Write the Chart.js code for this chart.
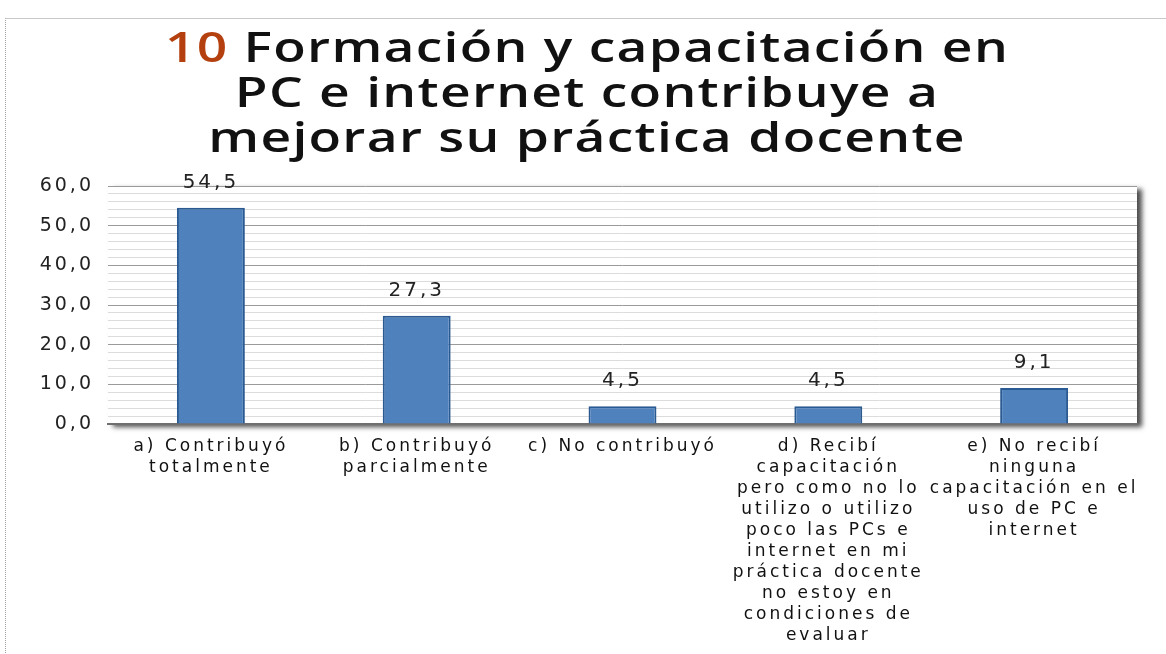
<!DOCTYPE html>
<html lang="es">
<head>
    <meta charset="UTF-8">
    <title>Formación y capacitación en PC e internet</title>
    <style>
        body {
            margin: 0;
            background-color: #fff;
            width: 1166px;
            height: 654px;
            overflow: hidden;
            position: relative;
        }
        .frame {
            position: absolute;
            left: 5px;
            top: 18px;
            width: 1170px;
            height: 650px;
            border-top: 1px solid #c8c8c8;
            border-left: 1px dotted #a0a0a0;
        }
        .title {
            position: absolute;
            left: 0;
            top: 23px;
            width: 1174px;
            text-align: center;
            font-family: "Open Sans", sans-serif;
            font-weight: 600;
            font-size: 42px;
            line-height: 45px;
            letter-spacing: 1px;
            color: #111;
            transform: scaleX(1.27);
            transform-origin: 587px 0;
            z-index: 2;
        }
        .title .num {
            color: #b5400f;
        }
        canvas {
            position: absolute;
            left: 0;
            top: 0;
        }
    </style>
    <script src="https://cdn.jsdelivr.net/npm/chart.js"></script>
</head>
<body>
    <div class="frame"></div>
    <div class="title"><span class="num">10</span> Formación y capacitación en<br>PC e internet contribuye a<br>mejorar su práctica docente</div>
    <canvas id="chart" width="1166" height="654"></canvas>

    <script>
        const categories = [
            ['a) Contribuyó', 'totalmente'],
            ['b) Contribuyó', 'parcialmente'],
            ['c) No contribuyó'],
            ['d) Recibí', 'capacitación', 'pero como no lo', 'utilizo o utilizo', 'poco las PCs e', 'internet en mi', 'práctica docente', 'no estoy en', 'condiciones de', 'evaluar'],
            ['e) No recibí', 'ninguna', 'capacitación en el', 'uso de PC e', 'internet']
        ];
        const percentages = [54.5, 27.3, 4.5, 4.5, 9.1];
        const yTicks = [0, 10, 20, 30, 40, 50, 60];

        const fmt = v => v.toFixed(1).replace('.', ',');

        // wider text like the original
        const spacing = {
            id: 'spacing',
            beforeUpdate(chart) { chart.ctx.letterSpacing = '3px'; },
            beforeDraw(chart) { chart.ctx.letterSpacing = '3px'; }
        };

        // drop shadow behind the plot area
        const plotShadow = {
            id: 'plotShadow',
            beforeDraw(chart) {
                const a = chart.chartArea;
                const ctx = chart.ctx;
                ctx.save();
                ctx.shadowColor = 'rgba(0,0,0,0.7)';
                ctx.shadowBlur = 5;
                ctx.shadowOffsetX = 5;
                ctx.shadowOffsetY = 3;
                ctx.fillStyle = '#fff';
                ctx.fillRect(a.left, a.top, a.right - a.left, a.bottom - a.top);
                ctx.restore();
            }
        };

        const valueLabels = {
            id: 'valueLabels',
            afterDatasetsDraw(chart) {
                const ctx = chart.ctx;
                const meta = chart.getDatasetMeta(0);
                ctx.save();
                ctx.font = '20px "DejaVu Sans", sans-serif';
                ctx.fillStyle = '#222';
                ctx.textAlign = 'center';
                ctx.textBaseline = 'middle';
                meta.data.forEach((bar, i) => {
                    ctx.fillText(fmt(percentages[i]), bar.x, bar.y - 25);
                });
                ctx.restore();
            }
        };

        new Chart(document.getElementById('chart'), {
            type: 'bar',
            data: {
                labels: categories,
                datasets: [{
                    data: percentages,
                    backgroundColor: '#4f81bd',
                    borderColor: '#2a5a92',
                    borderWidth: 2,
                    barPercentage: 0.33,
                    categoryPercentage: 1
                }]
            },
            options: {
                responsive: false,
                animation: false,
                layout: { padding: { left: 0, right: 29, top: 186, bottom: 0 } },
                plugins: {
                    legend: { display: false },
                    tooltip: { enabled: false }
                },
                scales: {
                    x: {
                        grid: { display: false },
                        border: { color: '#6f6f6f', width: 2 },
                        ticks: {
                            color: '#111',
                            font: { family: '"DejaVu Sans", sans-serif', size: 17, lineHeight: '21px' },
                            padding: 4,
                            maxRotation: 0,
                            autoSkip: false
                        },
                        afterFit(scale) { scale.height = 230; }
                    },
                    y: {
                        min: 0,
                        max: 60,
                        afterBuildTicks(scale) {
                            // minor lines every 2, labels only on the major ones
                            const t = [];
                            for (let v = 0; v <= 60; v += 2) t.push({ value: v });
                            scale.ticks = t;
                        },
                        grid: {
                            drawTicks: false,
                            color: ctx => yTicks.includes(ctx.tick.value) ? '#9a9a9a' : '#dcdcdc',
                            lineWidth: 1
                        },
                        border: { display: false },
                        ticks: {
                            autoSkip: false,
                            padding: 14,
                            color: '#222',
                            font: { family: '"DejaVu Sans", sans-serif', size: 19 },
                            callback: v => yTicks.includes(v) ? fmt(v) : ''
                        },
                        afterFit(scale) { scale.width = 108; }
                    }
                }
            },
            plugins: [spacing, plotShadow, valueLabels]
        });
    </script>
</body>
</html>
